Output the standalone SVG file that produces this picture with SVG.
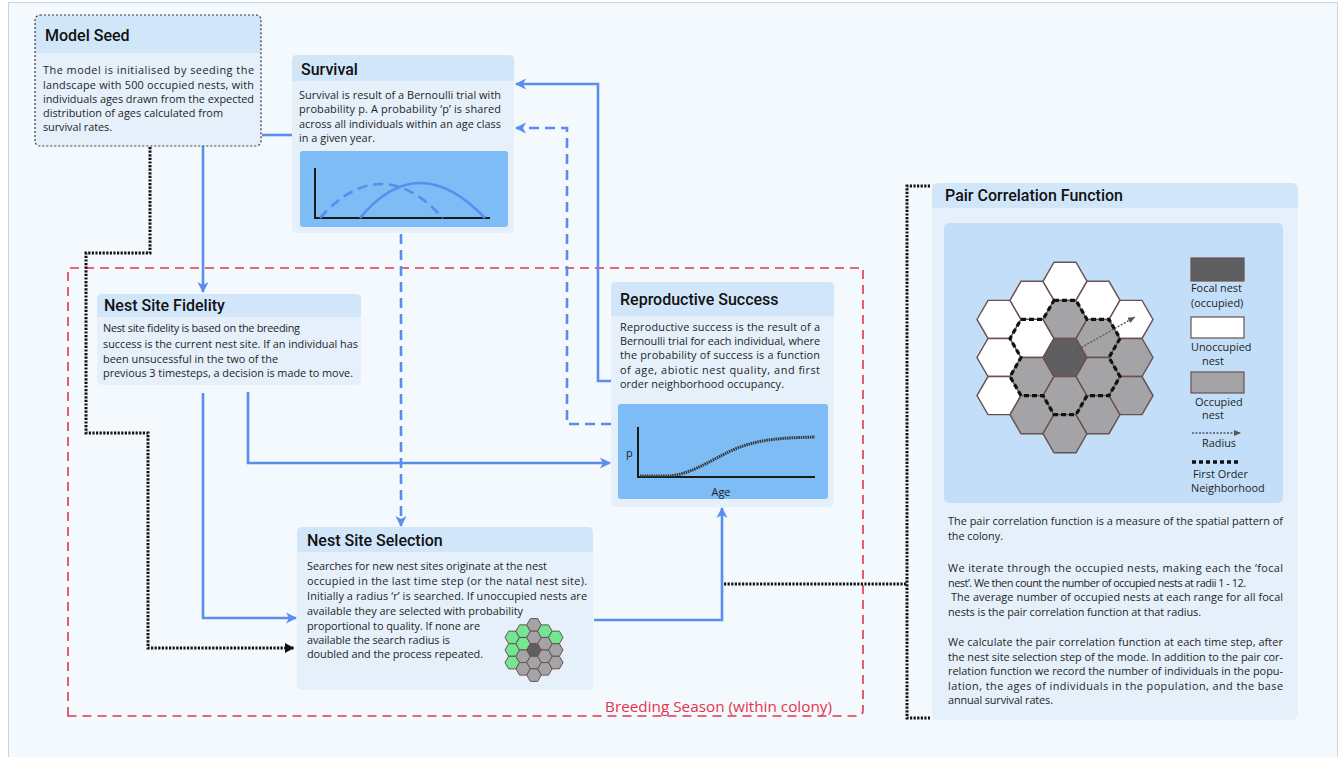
<svg xmlns="http://www.w3.org/2000/svg" xmlns:xlink="http://www.w3.org/1999/xlink" width="1343" height="757" viewBox="0 0 1343 757">
<style>
.body{fill:#e5f0fb}
.head{fill:#d2e6fa}
.title{font-family:Roboto,"Liberation Sans",sans-serif;font-weight:500;font-size:16px;fill:#111}
.t{font-family:"Open Sans","Liberation Sans",sans-serif;font-size:10.9px;fill:#1e1e1e}
.lg{font-family:"Open Sans","Liberation Sans",sans-serif;font-size:10.9px;fill:#1e1e1e}
.chart{fill:#7dbcf4}
.ax{stroke:#1a1a1a;stroke-width:2;fill:none}
.bl{stroke:#5b8def;stroke-width:2.6;fill:none}
.bld{stroke:#5b8def;stroke-width:2.6;fill:none;stroke-dasharray:10 6}
.dot{stroke:#111;stroke-width:3;fill:none;stroke-dasharray:2.2 1.4}
.W{fill:#ffffff;stroke:#6a5050;stroke-width:1.4}
.G{fill:#a4a4a7;stroke:#6a5050;stroke-width:1.4}
.D{fill:#5f5f62;stroke:#6a5050;stroke-width:1.4}
.g{fill:#72e691;stroke:#6a5050;stroke-width:1}
.sg{fill:#a4a4a7;stroke:#6a5050;stroke-width:1}
.sd{fill:#5f5f62;stroke:#6a5050;stroke-width:1}
</style>
<defs>
<marker id="ab" markerUnits="userSpaceOnUse" markerWidth="12" markerHeight="12" refX="10" refY="6" orient="auto"><path d="M0,0.5 L11,6 L0,11.5 L3,6 Z" fill="#5b8def"/></marker>
<marker id="ak" markerUnits="userSpaceOnUse" markerWidth="10" markerHeight="10" refX="9" refY="5" orient="auto"><path d="M0,0 L9,5 L0,10 Z" fill="#111"/></marker>
<marker id="ag" markerUnits="userSpaceOnUse" markerWidth="8" markerHeight="8" refX="7" refY="4" orient="auto"><path d="M0,1 L7,4 L0,7 Z" fill="#555"/></marker>
<polygon id="hx" points="22,0 11,19.05 -11,19.05 -22,0 -11,-19.05 11,-19.05"/>
<polygon id="sh" points="7.25,0 3.625,6.28 -3.625,6.28 -7.25,0 -3.625,-6.28 3.625,-6.28"/>
</defs>
<rect x="0" y="0" width="1343" height="757" fill="#ffffff"/>
<rect x="8.5" y="2.5" width="1329" height="760" fill="#f4f9fd" stroke="#cdd5dc" stroke-width="1"/>

<g id="breeding-season">
<path d="M68,716 L68,268 L863,268 L863,710 Q863,716 857,716 Z" fill="none" stroke="#e8344e" stroke-width="1.6" stroke-dasharray="9 6"/>
<text x="605" y="712" font-family="'Open Sans','Liberation Sans',sans-serif" font-size="14" fill="#e5334b" textLength="227" lengthAdjust="spacingAndGlyphs">Breeding Season (within colony)</text>
</g>

<g id="connectors">
<line x1="262" y1="135" x2="292" y2="135" class="bl"/>
<path d="M203,146 L203,292" class="bl" marker-end="url(#ab)"/>
<path d="M203,393 L203,618 L296,618" class="bl" marker-end="url(#ab)"/>
<path d="M248,392 L248,463 L610,463" class="bl" marker-end="url(#ab)"/>
<path d="M401,234 L401,526" class="bld" marker-end="url(#ab)"/>
<path d="M611,381 L598,381 L598,84 L516,84" class="bl" marker-end="url(#ab)"/>
<path d="M611,424 L567,424 L567,128 L516,128" class="bld" marker-end="url(#ab)"/>
<path d="M594,620 L722,620 L722,508" class="bl" marker-end="url(#ab)"/>
<path d="M150,147 L150,253 L86,253 L86,433 L148,433 L148,648 L294,648" class="dot" marker-end="url(#ak)"/>
<path d="M724,584 L907,584" class="dot"/>
<path d="M930,186 L907,186 L907,718 L930,718" class="dot"/>
</g>

<g id="model-seed">
<rect x="35" y="15" width="226" height="131" rx="5" class="body"/>
<path d="M35,53 L35,20 Q35,15 40,15 L256,15 Q261,15 261,20 L261,53 Z" class="head"/>
<rect x="35" y="15" width="226" height="131" rx="5" fill="none" stroke="#3a3a3a" stroke-width="1.2" stroke-dasharray="2 2"/>
<text x="45" y="41" class="title">Model Seed</text>
<text class="t" x="43" y="74" textLength="211">The model is initialised by seeding the</text>
<text class="t" x="43" y="88.5" textLength="211">landscape with 500 occupied nests, with</text>
<text class="t" x="43" y="103" textLength="211">individuals ages drawn from the expected</text>
<text class="t" x="43" y="117" textLength="180">distribution of ages calculated from</text>
<text class="t" x="43" y="131" textLength="69">survival rates.</text>
</g>

<g id="survival">
<rect x="292" y="55" width="222" height="178" rx="5" class="body"/>
<path d="M292,81 L292,60 Q292,55 297,55 L509,55 Q514,55 514,60 L514,81 Z" class="head"/>
<text x="301" y="75" class="title">Survival</text>
<text class="t" x="299" y="99" textLength="202">Survival is result of a Bernoulli trial with</text>
<text class="t" x="299" y="113" textLength="202">probability p. A probability ‘p’ is shared</text>
<text class="t" x="299" y="128" textLength="202">across all individuals within an age class</text>
<text class="t" x="299" y="142" textLength="76">in a given year.</text>
<rect x="300" y="151" width="208" height="76" rx="3" class="chart"/>
<path d="M315,168 L315,218 L490,218" class="ax"/>
<path d="M320,218 Q381,150 443,218" class="bld"/>
<path d="M360,218 Q418,148 485,218" class="bl"/>
</g>

<g id="nest-site-fidelity">
<rect x="97" y="294" width="264" height="91" rx="5" class="body"/>
<path d="M97,317 L97,299 Q97,294 102,294 L356,294 Q361,294 361,299 L361,317 Z" class="head"/>
<text x="104" y="311" class="title">Nest Site Fidelity</text>
<text class="t" x="103" y="332" textLength="197">Nest site fidelity is based on the breeding</text>
<text class="t" x="103" y="348" textLength="255">success is the current nest site. If an individual has</text>
<text class="t" x="103" y="363" textLength="175">been unsucessful in the two of the</text>
<text class="t" x="103" y="377" textLength="250">previous 3 timesteps, a decision is made to move.</text>
</g>

<g id="reproductive-success">
<rect x="611" y="282" width="223" height="225" rx="5" class="body"/>
<path d="M611,316 L611,287 Q611,282 616,282 L829,282 Q834,282 834,287 L834,316 Z" class="head"/>
<text x="620" y="305" class="title">Reproductive Success</text>
<text class="t" x="620" y="331" textLength="200">Reproductive success is the result of a</text>
<text class="t" x="620" y="345" textLength="200">Bernoulli trial for each individual, where</text>
<text class="t" x="620" y="359" textLength="200">the probability of success is a function</text>
<text class="t" x="620" y="374" textLength="200">of age, abiotic nest quality, and first</text>
<text class="t" x="620" y="388" textLength="164">order neighborhood occupancy.</text>
<rect x="618" y="404" width="210" height="95" rx="3" class="chart"/>
<path d="M638,427 L638,477 L815,477" class="ax"/>
<path d="M640,476 L665,476 C690,476 710,460 735,449 C760,439 780,438 815,437" fill="none" stroke="#363636" stroke-width="3" stroke-dasharray="1.5 0.8"/>
<text x="626" y="457" class="t" font-size="11">p</text>
<text x="721" y="496" class="t" font-size="11" text-anchor="middle">Age</text>
</g>

<g id="nest-site-selection">
<rect x="297" y="527" width="296" height="163" rx="5" class="body"/>
<path d="M297,552 L297,532 Q297,527 302,527 L588,527 Q593,527 593,532 L593,552 Z" class="head"/>
<text x="307" y="546" class="title">Nest Site Selection</text>
<text class="t" x="307" y="570" textLength="240">Searches for new nest sites originate at the nest</text>
<text class="t" x="307" y="585" textLength="280">occupied in the last time step (or the natal nest site).</text>
<text class="t" x="307" y="600" textLength="280">Initially a radius ‘r’ is searched. If unoccupied nests are</text>
<text class="t" x="307" y="615" textLength="216">available they are selected with probability</text>
<text class="t" x="307" y="630" textLength="173">proportional to quality. If none are</text>
<text class="t" x="307" y="644" textLength="143">available the search radius is</text>
<text class="t" x="307" y="658" textLength="176">doubled and the process repeated.</text>
<use xlink:href="#sh" x="512.25" y="637.44" class="g"/>
<use xlink:href="#sh" x="512.25" y="650" class="g"/>
<use xlink:href="#sh" x="512.25" y="662.56" class="g"/>
<use xlink:href="#sh" x="523.125" y="631.16" class="g"/>
<use xlink:href="#sh" x="523.125" y="643.72" class="g"/>
<use xlink:href="#sh" x="523.125" y="656.28" class="sg"/>
<use xlink:href="#sh" x="523.125" y="668.84" class="sg"/>
<use xlink:href="#sh" x="534" y="624.88" class="sg"/>
<use xlink:href="#sh" x="534" y="637.44" class="sg"/>
<use xlink:href="#sh" x="534" y="650" class="sd"/>
<use xlink:href="#sh" x="534" y="662.56" class="sg"/>
<use xlink:href="#sh" x="534" y="675.12" class="sg"/>
<use xlink:href="#sh" x="544.875" y="631.16" class="g"/>
<use xlink:href="#sh" x="544.875" y="643.72" class="sg"/>
<use xlink:href="#sh" x="544.875" y="656.28" class="sg"/>
<use xlink:href="#sh" x="544.875" y="668.84" class="sg"/>
<use xlink:href="#sh" x="555.75" y="637.44" class="g"/>
<use xlink:href="#sh" x="555.75" y="650" class="sg"/>
<use xlink:href="#sh" x="555.75" y="662.56" class="sg"/>
</g>

<g id="pair-correlation-function">
<rect x="932" y="183" width="366" height="537" rx="6" class="body"/>
<path d="M932,208 L932,189 Q932,183 938,183 L1292,183 Q1298,183 1298,189 L1298,208 Z" class="head"/>
<text x="945" y="201" class="title">Pair Correlation Function</text>
<rect x="944" y="223" width="339" height="280" rx="5" fill="#c2def8"/>
<use xlink:href="#hx" x="999" y="319.4" class="W"/>
<use xlink:href="#hx" x="999" y="357.5" class="W"/>
<use xlink:href="#hx" x="999" y="395.6" class="W"/>
<use xlink:href="#hx" x="1032" y="300.35" class="W"/>
<use xlink:href="#hx" x="1032" y="338.45" class="W"/>
<use xlink:href="#hx" x="1032" y="376.55" class="G"/>
<use xlink:href="#hx" x="1032" y="414.65" class="G"/>
<use xlink:href="#hx" x="1065" y="281.3" class="W"/>
<use xlink:href="#hx" x="1065" y="319.4" class="G"/>
<use xlink:href="#hx" x="1065" y="357.5" class="D"/>
<use xlink:href="#hx" x="1065" y="395.6" class="G"/>
<use xlink:href="#hx" x="1065" y="433.7" class="G"/>
<use xlink:href="#hx" x="1098" y="300.35" class="W"/>
<use xlink:href="#hx" x="1098" y="338.45" class="G"/>
<use xlink:href="#hx" x="1098" y="376.55" class="G"/>
<use xlink:href="#hx" x="1098" y="414.65" class="G"/>
<use xlink:href="#hx" x="1131" y="319.4" class="W"/>
<use xlink:href="#hx" x="1131" y="357.5" class="G"/>
<use xlink:href="#hx" x="1131" y="395.6" class="G"/>
<path d="M1054,300.35 L1076,300.35 L1087,319.4 L1109,319.4 L1120,338.45 L1109,357.5 L1120,376.55 L1109,395.6 L1087,395.6 L1076,414.65 L1054,414.65 L1043,395.6 L1021,395.6 L1010,376.55 L1021,357.5 L1010,338.45 L1021,319.4 L1043,319.4 Z" fill="none" stroke="#111" stroke-width="3.2" stroke-dasharray="5 3"/>
<line x1="1063" y1="358" x2="1135" y2="317" stroke="#555" stroke-width="1.3" stroke-dasharray="2 1.5" marker-end="url(#ag)"/>
<rect x="1191" y="258" width="53" height="23" fill="#5f5f62" stroke="#6a5050" stroke-width="1.2"/>
<text x="1191" y="292" class="lg">Focal nest</text>
<text x="1191" y="307" class="lg">(occupied)</text>
<rect x="1191" y="317" width="53" height="21" fill="#ffffff" stroke="#6a5050" stroke-width="1.2"/>
<text x="1191" y="351" class="lg">Unoccupied</text>
<text x="1202" y="365" class="lg">nest</text>
<rect x="1191" y="372" width="53" height="21" fill="#a4a4a7" stroke="#6a5050" stroke-width="1.2"/>
<text x="1195" y="406" class="lg">Occupied</text>
<text x="1202" y="419" class="lg">nest</text>
<line x1="1192" y1="433" x2="1241" y2="433" stroke="#555" stroke-width="1.3" stroke-dasharray="2 1.5" marker-end="url(#ag)"/>
<text x="1202" y="447" class="lg">Radius</text>
<line x1="1192" y1="462" x2="1239" y2="462" stroke="#111" stroke-width="3.5" stroke-dasharray="4 3"/>
<text x="1193" y="478" class="lg">First Order</text>
<text x="1191" y="492" class="lg">Neighborhood</text>
<text class="t" x="948" y="525" textLength="335">The pair correlation function is a measure of the spatial pattern of</text>
<text class="t" x="948" y="540" textLength="55">the colony.</text>
<text class="t" x="948" y="572" textLength="335">We iterate through the occupied  nests, making each the ‘focal</text>
<text class="t" x="948" y="587" textLength="298">nest’. We then count the number of occupied nests at radii 1 - 12.</text>
<text class="t" x="951" y="601" textLength="332">The average number of occupied nests at each range for all focal</text>
<text class="t" x="948" y="616" textLength="253">nests is the pair correlation function at that radius.</text>
<text class="t" x="948" y="646" textLength="335">We calculate the pair correlation function at each time step, after</text>
<text class="t" x="948" y="661" textLength="335">the nest site selection step of the mode. In addition to the pair cor-</text>
<text class="t" x="948" y="675" textLength="335">relation function we record the number of individuals in the popu-</text>
<text class="t" x="948" y="690" textLength="335">lation, the ages of individuals in the population, and the base</text>
<text class="t" x="948" y="704" textLength="105">annual survival rates.</text>
</g>
</svg>
